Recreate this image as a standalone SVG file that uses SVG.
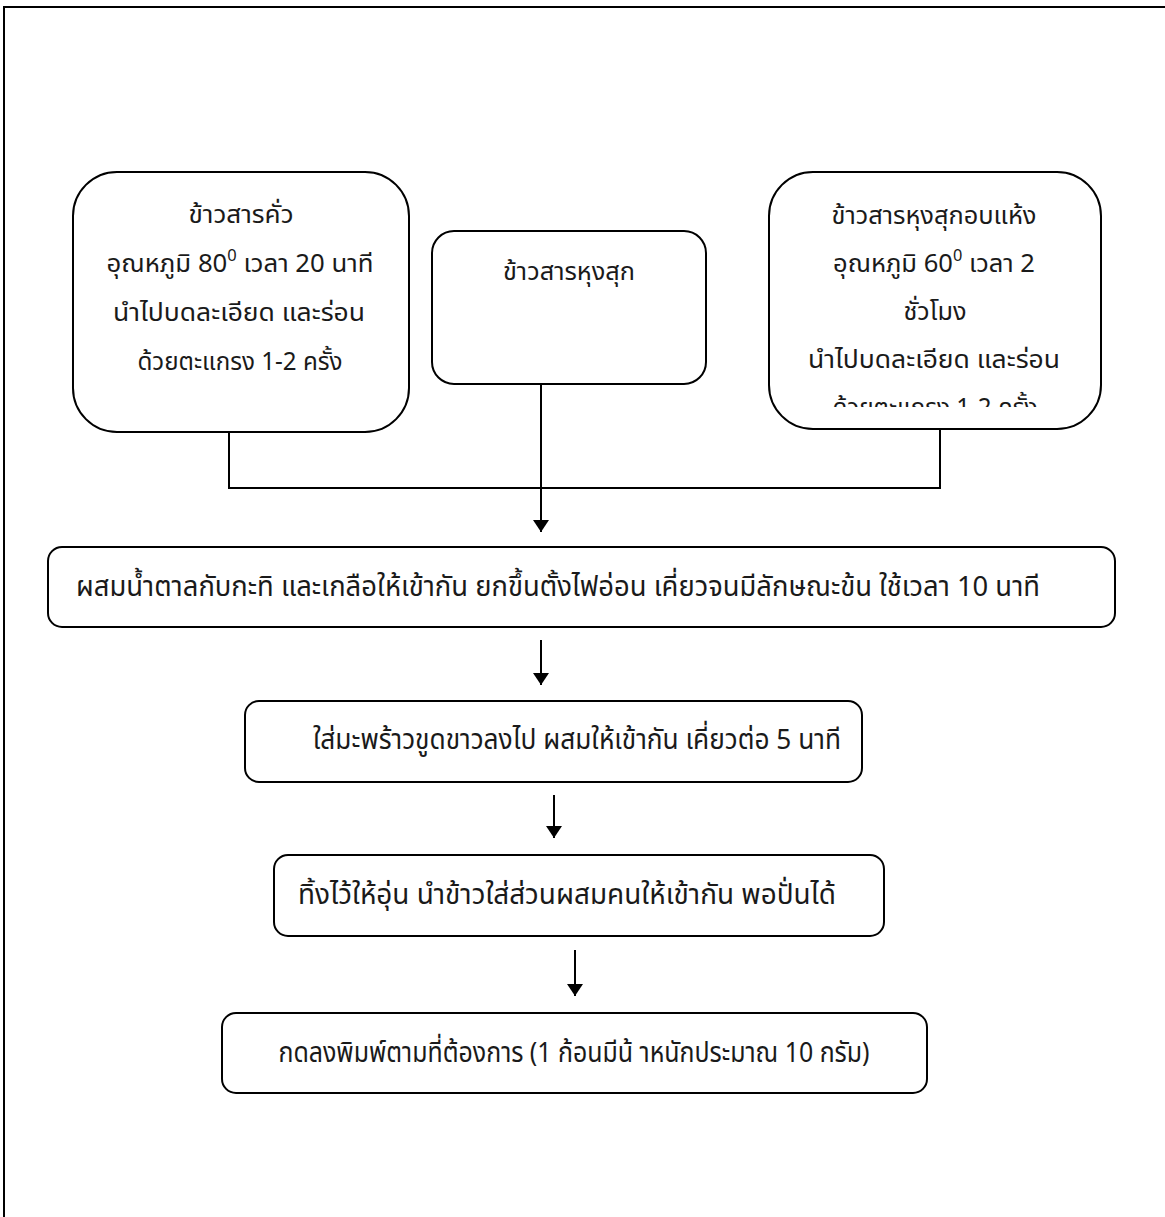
<svg xmlns="http://www.w3.org/2000/svg" width="1165" height="1217" viewBox="0 0 1165 1217">
<style>
.box{fill:#fff;stroke:#000;stroke-width:2}
.t{font-family:"Noto Sans Thai","Noto Sans","DejaVu Sans",sans-serif;font-size:28px;fill:#1a1a1a;text-anchor:middle}
.s{font-size:25px}
.c{fill:none;stroke:#000;stroke-width:2}
</style>
<defs>
<marker id="ah" viewBox="0 0 12 16" refX="12" refY="8" markerWidth="12" markerHeight="16" markerUnits="userSpaceOnUse" orient="auto">
<path d="M0,0 L12,8 L0,16 Z" fill="#000"/>
</marker>
<clipPath id="clipR"><rect x="768" y="171" width="333" height="236"/></clipPath>
</defs>
<rect width="1165" height="1217" fill="#fff"/>
<g id="frame"><path d="M4,1217 V7 H1165" fill="none" stroke="#000" stroke-width="2"/></g>
<g id="n1">
<rect class="box" x="73" y="172" width="336" height="260" rx="44"/>
<text class="t s" x="241" y="223" textLength="105" lengthAdjust="spacingAndGlyphs">ข้าวสารคั่ว</text>
<text class="t s" x="240" y="272" textLength="267" lengthAdjust="spacingAndGlyphs">อุณหภูมิ 80<tspan font-size="16" dy="-11">0</tspan><tspan dy="11"> เวลา 20 นาที</tspan></text>
<text class="t s" x="239" y="321" textLength="252" lengthAdjust="spacingAndGlyphs">นำไปบดละเอียด และร่อน</text>
<text class="t s" x="240" y="370" textLength="205" lengthAdjust="spacingAndGlyphs">ด้วยตะแกรง 1-2 ครั้ง</text>
</g>
<g id="n2">
<rect class="box" x="432" y="231" width="274" height="153" rx="22"/>
<text class="t s" x="569" y="280" textLength="132" lengthAdjust="spacingAndGlyphs">ข้าวสารหุงสุก</text>
</g>
<g id="n3">
<rect class="box" x="769" y="172" width="332" height="257" rx="44"/>
<g clip-path="url(#clipR)">
<text class="t s" x="934" y="224" textLength="205" lengthAdjust="spacingAndGlyphs">ข้าวสารหุงสุกอบแห้ง</text>
<text class="t s" x="934" y="272" textLength="202" lengthAdjust="spacingAndGlyphs">อุณหภูมิ 60<tspan font-size="16" dy="-11">0</tspan><tspan dy="11"> เวลา 2</tspan></text>
<text class="t s" x="935" y="320" textLength="63" lengthAdjust="spacingAndGlyphs">ชั่วโมง</text>
<text class="t s" x="934" y="368" textLength="252" lengthAdjust="spacingAndGlyphs">นำไปบดละเอียด และร่อน</text>
<text class="t s" x="935" y="416" textLength="205" lengthAdjust="spacingAndGlyphs">ด้วยตะแกรง 1-2 ครั้ง</text>
</g>
</g>
<g id="n4">
<rect class="box" x="48" y="547" width="1067" height="80" rx="14"/>
<text class="t" x="558" y="596" textLength="964" lengthAdjust="spacingAndGlyphs">ผสมน้ำตาลกับกะทิ และเกลือให้เข้ากัน ยกขึ้นตั้งไฟอ่อน เคี่ยวจนมีลักษณะข้น ใช้เวลา 10 นาที</text>
</g>
<g id="n5">
<rect class="box" x="245" y="701" width="617" height="81" rx="14"/>
<text class="t" x="577" y="749" textLength="528" lengthAdjust="spacingAndGlyphs">ใส่มะพร้าวขูดขาวลงไป ผสมให้เข้ากัน เคี่ยวต่อ 5 นาที</text>
</g>
<g id="n6">
<rect class="box" x="274" y="855" width="610" height="81" rx="14"/>
<text class="t" x="567" y="904" textLength="538" lengthAdjust="spacingAndGlyphs">ทิ้งไว้ให้อุ่น นำข้าวใส่ส่วนผสมคนให้เข้ากัน พอปั่นได้</text>
</g>
<g id="n7">
<rect class="box" x="222" y="1013" width="705" height="80" rx="14"/>
<text class="t" x="574" y="1062" textLength="591" lengthAdjust="spacingAndGlyphs">กดลงพิมพ์ตามที่ต้องการ (1 ก้อนมีน้ าหนักประมาณ 10 กรัม)</text>
</g>
<g id="connectors">
<path class="c" d="M229,432 V488 H940 V429"/>
<path class="c" d="M541,384 V532" marker-end="url(#ah)"/>
<path class="c" d="M541,640 V685" marker-end="url(#ah)"/>
<path class="c" d="M554,795 V838" marker-end="url(#ah)"/>
<path class="c" d="M575,950 V996" marker-end="url(#ah)"/>
</g>
</svg>
